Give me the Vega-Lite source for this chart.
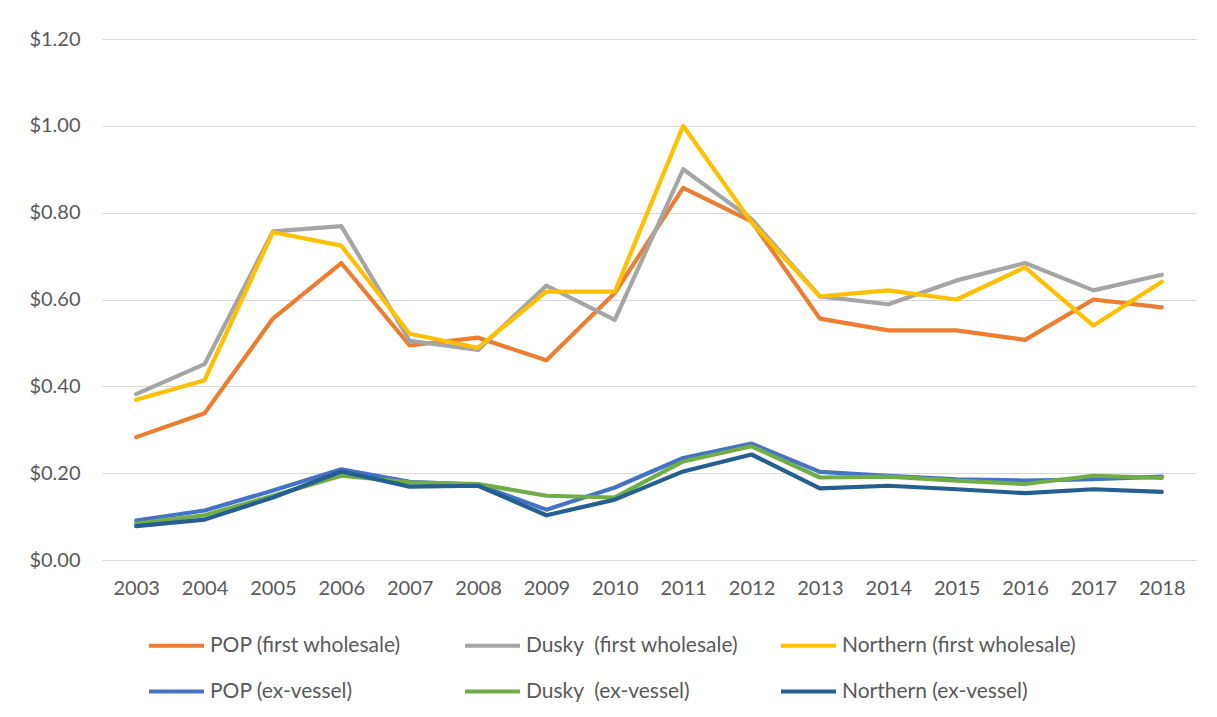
{
  "$schema": "https://vega.github.io/schema/vega-lite/v6.json",
  "autosize": {"type": "none"},
  "width": 1094,
  "height": 521,
  "padding": {"left": 102, "top": 39, "right": 21, "bottom": 157},
  "background": "white",
  "config": {
    "view": {"stroke": null},
    "font": "Lato",
    "axis": {"labelFont": "Lato", "labelFontSize": 20, "labelColor": "#595959", "domain": false, "ticks": false, "grid": false},
    "legend": {"labelFont": "Lato", "labelFontSize": 21, "labelColor": "#595959", "labelLimit": 400}
  },
  "data": {"values": [
    {"year": "2003", "series": "POP (first wholesale)", "price": 0.283},
    {"year": "2004", "series": "POP (first wholesale)", "price": 0.338},
    {"year": "2005", "series": "POP (first wholesale)", "price": 0.556},
    {"year": "2006", "series": "POP (first wholesale)", "price": 0.684},
    {"year": "2007", "series": "POP (first wholesale)", "price": 0.494},
    {"year": "2008", "series": "POP (first wholesale)", "price": 0.512},
    {"year": "2009", "series": "POP (first wholesale)", "price": 0.460},
    {"year": "2010", "series": "POP (first wholesale)", "price": 0.615},
    {"year": "2011", "series": "POP (first wholesale)", "price": 0.857},
    {"year": "2012", "series": "POP (first wholesale)", "price": 0.780},
    {"year": "2013", "series": "POP (first wholesale)", "price": 0.556},
    {"year": "2014", "series": "POP (first wholesale)", "price": 0.529},
    {"year": "2015", "series": "POP (first wholesale)", "price": 0.529},
    {"year": "2016", "series": "POP (first wholesale)", "price": 0.507},
    {"year": "2017", "series": "POP (first wholesale)", "price": 0.600},
    {"year": "2018", "series": "POP (first wholesale)", "price": 0.582},
    {"year": "2003", "series": "Dusky\u00a0 (first wholesale)", "price": 0.382},
    {"year": "2004", "series": "Dusky\u00a0 (first wholesale)", "price": 0.451},
    {"year": "2005", "series": "Dusky\u00a0 (first wholesale)", "price": 0.757},
    {"year": "2006", "series": "Dusky\u00a0 (first wholesale)", "price": 0.769},
    {"year": "2007", "series": "Dusky\u00a0 (first wholesale)", "price": 0.505},
    {"year": "2008", "series": "Dusky\u00a0 (first wholesale)", "price": 0.484},
    {"year": "2009", "series": "Dusky\u00a0 (first wholesale)", "price": 0.632},
    {"year": "2010", "series": "Dusky\u00a0 (first wholesale)", "price": 0.553},
    {"year": "2011", "series": "Dusky\u00a0 (first wholesale)", "price": 0.900},
    {"year": "2012", "series": "Dusky\u00a0 (first wholesale)", "price": 0.785},
    {"year": "2013", "series": "Dusky\u00a0 (first wholesale)", "price": 0.607},
    {"year": "2014", "series": "Dusky\u00a0 (first wholesale)", "price": 0.589},
    {"year": "2015", "series": "Dusky\u00a0 (first wholesale)", "price": 0.644},
    {"year": "2016", "series": "Dusky\u00a0 (first wholesale)", "price": 0.684},
    {"year": "2017", "series": "Dusky\u00a0 (first wholesale)", "price": 0.621},
    {"year": "2018", "series": "Dusky\u00a0 (first wholesale)", "price": 0.657},
    {"year": "2003", "series": "Northern (first wholesale)", "price": 0.369},
    {"year": "2004", "series": "Northern (first wholesale)", "price": 0.414},
    {"year": "2005", "series": "Northern (first wholesale)", "price": 0.755},
    {"year": "2006", "series": "Northern (first wholesale)", "price": 0.724},
    {"year": "2007", "series": "Northern (first wholesale)", "price": 0.521},
    {"year": "2008", "series": "Northern (first wholesale)", "price": 0.489},
    {"year": "2009", "series": "Northern (first wholesale)", "price": 0.618},
    {"year": "2010", "series": "Northern (first wholesale)", "price": 0.618},
    {"year": "2011", "series": "Northern (first wholesale)", "price": 1.000},
    {"year": "2012", "series": "Northern (first wholesale)", "price": 0.778},
    {"year": "2013", "series": "Northern (first wholesale)", "price": 0.607},
    {"year": "2014", "series": "Northern (first wholesale)", "price": 0.621},
    {"year": "2015", "series": "Northern (first wholesale)", "price": 0.600},
    {"year": "2016", "series": "Northern (first wholesale)", "price": 0.674},
    {"year": "2017", "series": "Northern (first wholesale)", "price": 0.540},
    {"year": "2018", "series": "Northern (first wholesale)", "price": 0.641},
    {"year": "2003", "series": "POP (ex-vessel)", "price": 0.091},
    {"year": "2004", "series": "POP (ex-vessel)", "price": 0.114},
    {"year": "2005", "series": "POP (ex-vessel)", "price": 0.160},
    {"year": "2006", "series": "POP (ex-vessel)", "price": 0.209},
    {"year": "2007", "series": "POP (ex-vessel)", "price": 0.180},
    {"year": "2008", "series": "POP (ex-vessel)", "price": 0.173},
    {"year": "2009", "series": "POP (ex-vessel)", "price": 0.116},
    {"year": "2010", "series": "POP (ex-vessel)", "price": 0.167},
    {"year": "2011", "series": "POP (ex-vessel)", "price": 0.235},
    {"year": "2012", "series": "POP (ex-vessel)", "price": 0.268},
    {"year": "2013", "series": "POP (ex-vessel)", "price": 0.203},
    {"year": "2014", "series": "POP (ex-vessel)", "price": 0.194},
    {"year": "2015", "series": "POP (ex-vessel)", "price": 0.186},
    {"year": "2016", "series": "POP (ex-vessel)", "price": 0.183},
    {"year": "2017", "series": "POP (ex-vessel)", "price": 0.186},
    {"year": "2018", "series": "POP (ex-vessel)", "price": 0.192},
    {"year": "2003", "series": "Dusky\u00a0 (ex-vessel)", "price": 0.084},
    {"year": "2004", "series": "Dusky\u00a0 (ex-vessel)", "price": 0.103},
    {"year": "2005", "series": "Dusky\u00a0 (ex-vessel)", "price": 0.148},
    {"year": "2006", "series": "Dusky\u00a0 (ex-vessel)", "price": 0.194},
    {"year": "2007", "series": "Dusky\u00a0 (ex-vessel)", "price": 0.179},
    {"year": "2008", "series": "Dusky\u00a0 (ex-vessel)", "price": 0.175},
    {"year": "2009", "series": "Dusky\u00a0 (ex-vessel)", "price": 0.148},
    {"year": "2010", "series": "Dusky\u00a0 (ex-vessel)", "price": 0.144},
    {"year": "2011", "series": "Dusky\u00a0 (ex-vessel)", "price": 0.227},
    {"year": "2012", "series": "Dusky\u00a0 (ex-vessel)", "price": 0.262},
    {"year": "2013", "series": "Dusky\u00a0 (ex-vessel)", "price": 0.190},
    {"year": "2014", "series": "Dusky\u00a0 (ex-vessel)", "price": 0.192},
    {"year": "2015", "series": "Dusky\u00a0 (ex-vessel)", "price": 0.183},
    {"year": "2016", "series": "Dusky\u00a0 (ex-vessel)", "price": 0.175},
    {"year": "2017", "series": "Dusky\u00a0 (ex-vessel)", "price": 0.194},
    {"year": "2018", "series": "Dusky\u00a0 (ex-vessel)", "price": 0.189},
    {"year": "2003", "series": "Northern (ex-vessel)", "price": 0.078},
    {"year": "2004", "series": "Northern (ex-vessel)", "price": 0.093},
    {"year": "2005", "series": "Northern (ex-vessel)", "price": 0.144},
    {"year": "2006", "series": "Northern (ex-vessel)", "price": 0.204},
    {"year": "2007", "series": "Northern (ex-vessel)", "price": 0.169},
    {"year": "2008", "series": "Northern (ex-vessel)", "price": 0.171},
    {"year": "2009", "series": "Northern (ex-vessel)", "price": 0.103},
    {"year": "2010", "series": "Northern (ex-vessel)", "price": 0.139},
    {"year": "2011", "series": "Northern (ex-vessel)", "price": 0.204},
    {"year": "2012", "series": "Northern (ex-vessel)", "price": 0.243},
    {"year": "2013", "series": "Northern (ex-vessel)", "price": 0.165},
    {"year": "2014", "series": "Northern (ex-vessel)", "price": 0.171},
    {"year": "2015", "series": "Northern (ex-vessel)", "price": 0.163},
    {"year": "2016", "series": "Northern (ex-vessel)", "price": 0.154},
    {"year": "2017", "series": "Northern (ex-vessel)", "price": 0.163},
    {"year": "2018", "series": "Northern (ex-vessel)", "price": 0.157}
  ]},
  "mark": {"type": "line", "strokeWidth": 4.2, "strokeCap": "round", "strokeJoin": "round"},
  "encoding": {
    "x": {"field": "year", "type": "ordinal", "scale": {"type": "point", "padding": 0.5},
      "axis": {"title": null, "labelAngle": 0, "labelPadding": 18}},
    "y": {"field": "price", "type": "quantitative", "scale": {"domain": [0, 1.2]},
      "axis": {"title": null, "format": "$.2f", "values": [0, 0.2, 0.4, 0.6, 0.8, 1.0, 1.2], "grid": true, "gridColor": "#D9D9D9", "gridWidth": 1.2, "labelPadding": 22}},
    "color": {"field": "series", "type": "nominal",
      "scale": {
        "domain": ["POP (first wholesale)", "Dusky\u00a0 (first wholesale)", "Northern (first wholesale)", "POP (ex-vessel)", "Dusky\u00a0 (ex-vessel)", "Northern (ex-vessel)"],
        "range": ["#ED7D31", "#A5A5A5", "#FFC000", "#4472C4", "#70AD47", "#255E91"]},
      "legend": {"title": null, "orient": "none", "legendX": 45, "legendY": 577, "direction": "horizontal", "columns": 3, "gridAlign": "all", "columnPadding": 12, "rowPadding": 6, "symbolType": "stroke", "symbolSize": 3025, "symbolStrokeWidth": 4, "labelOffset": 4, "padding": 0, "labelLimit": 400}}
  }
}
